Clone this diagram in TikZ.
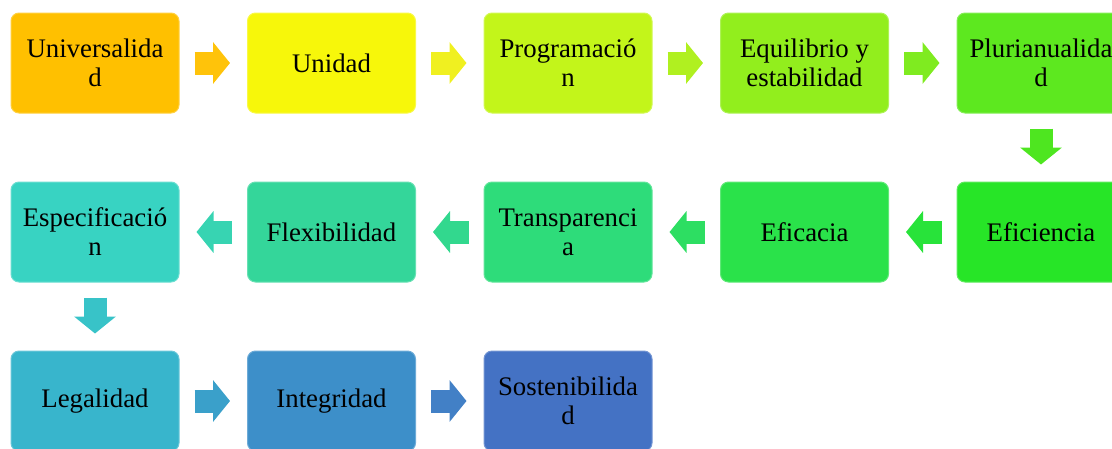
\documentclass[tikz,border=0pt]{standalone}
\usepackage{fontspec}
\setmainfont{Liberation Serif}
\usetikzlibrary{arrows.meta}
\definecolor{b1}{HTML}{FFC000}
\definecolor{b2}{HTML}{F7F70A}
\definecolor{b3}{HTML}{C3F51A}
\definecolor{b4}{HTML}{92EE1D}
\definecolor{b5}{HTML}{5DE81F}
\definecolor{b6}{HTML}{27E527}
\definecolor{b7}{HTML}{2AE24A}
\definecolor{b8}{HTML}{2EDC7A}
\definecolor{b9}{HTML}{34D69A}
\definecolor{b10}{HTML}{38D3C2}
\definecolor{b11}{HTML}{38B5CC}
\definecolor{b12}{HTML}{3D8FC9}
\definecolor{b13}{HTML}{4472C4}
\definecolor{a1}{HTML}{FFC30A}
\definecolor{a2}{HTML}{F0F020}
\definecolor{a3}{HTML}{B0F020}
\definecolor{a4}{HTML}{7FEB20}
\definecolor{a5}{HTML}{4EE620}
\definecolor{a6}{HTML}{28E33A}
\definecolor{a7}{HTML}{2DDE62}
\definecolor{a8}{HTML}{32D88E}
\definecolor{a9}{HTML}{37D4B2}
\definecolor{a10}{HTML}{38C3C8}
\definecolor{a11}{HTML}{3AA0CA}
\definecolor{a12}{HTML}{4280C6}
\begin{document}
\begin{tikzpicture}[x=1pt,y=-1pt,
  box/.style={rounded corners=8pt, minimum width=168pt, minimum height=100pt,
    align=center, inner sep=0pt, text=black, line width=1pt,
    font=\fontsize{26.8}{29}\selectfont, fill=#1, draw=#1!75!white},
  flow/.style={line width=23pt, draw=#1, -{Triangle[width=41pt,length=17pt]},
    shorten <=15pt, shorten >=17pt}
]
\useasboundingbox (0,0) rectangle (1112,448);
\clip (0,0) rectangle (1112,448);
% row 1
\node[box=b1] (n1) at (95,63) {Universalida\\d};
\node[box=b2] (n2) at (331.5,63) {Unidad};
\node[box=b3] (n3) at (568,63) {Programació\\n};
\node[box=b4] (n4) at (804.5,63) {Equilibrio y\\estabilidad};
\node[box=b5] (n5) at (1041,63) {Plurianualida\\d};
% row 2
\node[box=b6] (n6) at (1041,232) {Eficiencia};
\node[box=b7] (n7) at (804.5,232) {Eficacia};
\node[box=b8] (n8) at (568,232) {Transparenci\\a};
\node[box=b9] (n9) at (331.5,232) {Flexibilidad};
\node[box=b10] (n10) at (95,232) {Especificació\\n};
% row 3
\node[box=b11] (n11) at (95,401) {Legalidad};
\node[box=b12] (n12) at (331.5,401) {Integridad};
\node[box=b13] (n13) at (568,401) {Sostenibilida\\d};
% connectors
\draw[flow=a1] (n1) -- (n2);
\draw[flow=a2] (n2) -- (n3);
\draw[flow=a3] (n3) -- (n4);
\draw[flow=a4] (n4) -- (n5);
\draw[flow=a5] (n5) -- (n6);
\draw[flow=a6] (n6) -- (n7);
\draw[flow=a7] (n7) -- (n8);
\draw[flow=a8] (n8) -- (n9);
\draw[flow=a9] (n9) -- (n10);
\draw[flow=a10] (n10) -- (n11);
\draw[flow=a11] (n11) -- (n12);
\draw[flow=a12] (n12) -- (n13);
\end{tikzpicture}
\end{document}
